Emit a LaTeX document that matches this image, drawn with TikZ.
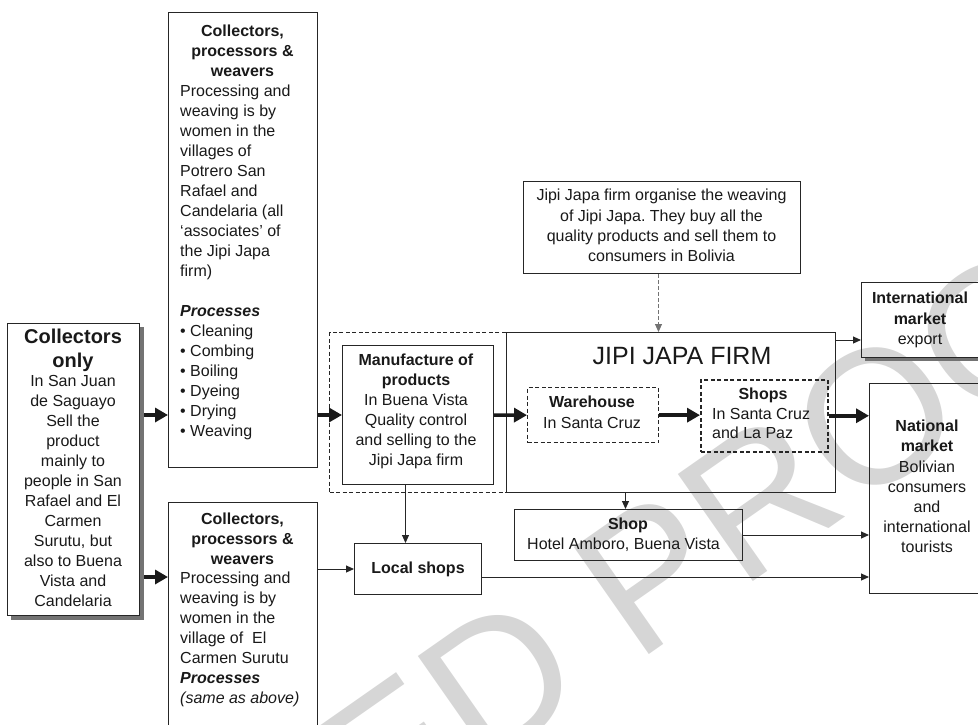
\documentclass[tikz,border=0pt]{standalone}
\usepackage{fontspec}
\setmainfont{Liberation Sans}
\usetikzlibrary{arrows.meta,calc}
\frenchspacing
\begin{document}
\begin{tikzpicture}[x=1pt,y=-1pt,
  box/.style={draw=black!85, line width=1pt, inner sep=0pt},
  dbox/.style={draw=black!85, line width=1.3pt, dash pattern=on 4pt off 2.5pt, inner sep=0pt},
  txt/.style={inner sep=0pt, text=black!90, font=\fontsize{16}{20}\selectfont},
  btxt/.style={inner sep=0pt, text=black!90, font=\fontsize{16}{20}\selectfont\bfseries},
  thickarrow/.style={line width=3.5pt, draw=black!90, -{Triangle[length=13pt,width=14pt]}},
  thinarrow/.style={line width=1pt, draw=black!85, -{Triangle[length=8pt,width=7pt]}},
  shadowline/.style={draw=black!55, line width=4pt}
]
\path[use as bounding box] (0,0) rectangle (978,725);
\clip (0,0) rectangle (978,725);

% watermark
\node[rotate=35, text=black!16, inner sep=0pt, font=\fontsize{190}{190}\selectfont] (wm) at (249,855) {UNCORRECTED PROOF};

% ---- left box: collectors only
\draw[shadowline] (141.5,327) -- (141.5,617.5) -- (11,617.5);
\node[box, anchor=north west, minimum width=132pt, minimum height=292pt] (lb) at (7,323) {};
\node[inner sep=0pt, text=black!90, font=\fontsize{20}{24}\selectfont\bfseries, align=center, anchor=north] (lbT) at (73,329) {Collectors\\only};
\node[txt, align=center, anchor=north] (lbB) at (73,375) {In San Juan\\de Saguayo\\Sell the\\product\\mainly to\\people in San\\Rafael and El\\Carmen\\Surutu, but\\also to Buena\\Vista and\\Candelaria};

% ---- upper collectors box
\node[box, anchor=north west, minimum width=149pt, minimum height=455pt] (ub) at (168,12) {};
\node[btxt, align=center, anchor=north] (ubT) at (242.5,25) {Collectors,\\processors \&\\weavers};
\node[txt, align=left, anchor=north west] (ubB) at (180,85) {Processing and\\weaving is by\\women in the\\villages of\\Potrero San\\Rafael and\\Candelaria (all\\‘associates’ of\\the Jipi Japa\\firm)\\[20pt]\textbf{\textit{Processes}}\\• Cleaning\\• Combing\\• Boiling\\• Dyeing\\• Drying\\• Weaving};

% ---- lower collectors box (runs off the page)
\node[box, anchor=north west, minimum width=149pt, minimum height=240pt] (lob) at (168,502) {};
\node[btxt, align=center, anchor=north] (lobT) at (242.5,513) {Collectors,\\processors \&\\weavers};
\node[txt, align=left, anchor=north west] (lobB) at (180,572) {Processing and\\weaving is by\\women in the\\village of\ \ El\\Carmen Surutu\\\textbf{\textit{Processes}}\\\textit{(same as above)}};

% ---- manufacture
\node[dbox, line width=1.1pt, anchor=north west, minimum width=177pt, minimum height=160pt] (mfd) at (329,332) {};
\node[box, anchor=north west, minimum width=151pt, minimum height=139pt] (mf) at (342,345) {};
\node[txt, align=center, anchor=north] (mfT) at (416,354) {\textbf{Manufacture of}\\\textbf{products}\\In Buena Vista\\Quality control\\and selling to the\\Jipi Japa firm};

% ---- description box
\node[box, anchor=north west, minimum width=277pt, minimum height=92pt] (desc) at (523,181) {};
\node[txt, font=\fontsize{16}{20.3}\selectfont, align=center, anchor=north] (descT) at (661.5,189) {Jipi Japa firm organise the weaving\\of Jipi Japa. They buy all the\\quality products and sell them to\\consumers in Bolivia};

% ---- Jipi Japa firm
\node[box, anchor=north west, minimum width=329pt, minimum height=160pt] (jf) at (506,332) {};
\node[inner sep=0pt, text=black!90, font=\fontsize{25}{30}\selectfont] (jfT) at (682,356) {JIPI JAPA FIRM};

\node[dbox, anchor=north west, minimum width=131pt, minimum height=55pt] (wh) at (527,387) {};
\node[txt, font=\fontsize{16}{20.5}\selectfont, align=center, anchor=north] (whT) at (592,396) {\textbf{Warehouse}\\In Santa Cruz};

\node[dbox, line width=1.5pt, anchor=north west, minimum width=127pt, minimum height=72pt] (sh) at (700,379) {};
\node[btxt, anchor=north] (shT) at (763,388) {Shops};
\node[txt, font=\fontsize{16}{19.5}\selectfont, align=left, anchor=north west] (shB) at (712,408) {In Santa Cruz\\and La Paz};

% ---- markets
\draw[shadowline, line width=3pt] (865,359) -- (985,359);
\node[box, anchor=north west, minimum width=122pt, minimum height=75pt] (im) at (861,282) {};
\node[txt, font=\fontsize{16}{20.5}\selectfont, align=center, anchor=north] (imT) at (920,292) {\textbf{International}\\\textbf{market}\\export};

\node[box, anchor=north west, minimum width=116pt, minimum height=210pt] (nm) at (869,383) {};
\node[txt, font=\fontsize{16}{20.2}\selectfont, align=center, anchor=north] (nmT) at (927,420) {\textbf{National}\\\textbf{market}\\Bolivian\\consumers\\and\\international\\tourists};

% ---- shop and local shops
\node[box, anchor=north west, minimum width=228pt, minimum height=51pt] (sp) at (514,509) {};
\node[btxt, anchor=north] (spT) at (628,518) {Shop};
\node[txt, anchor=north west] (spB) at (527,538) {Hotel Amboro, Buena Vista};

\node[box, anchor=north west, minimum width=127pt, minimum height=51pt] (ls) at (354,543) {};
\node[btxt] (lsT) at (ls.center) {Local shops};

% ---- connectors
\coordinate (ylow) at (0,577);
\draw[thickarrow] ([xshift=4pt]lb.east |- mf.west) -- (ub.west |- mf.west);
\draw[thickarrow] ([xshift=4pt]lb.east |- ylow) -- (lob.west |- ylow);
\draw[thickarrow] (ub.east |- mf.west) -- (mf.west);
\draw[thickarrow] (mf.east) -- (wh.west);
\draw[thickarrow] (wh.east) -- (wh.east -| sh.west);
\draw[thickarrow] (sh.east) -- (sh.east -| nm.west);

\draw[black!55, line width=0.9pt, dash pattern=on 4pt off 2pt, -{Triangle[length=8pt,width=7pt]}] ([xshift=-3.5pt]desc.south) -- ([xshift=-3.5pt]desc.south |- jf.north);

\coordinate (yint) at (0,340);
\draw[thinarrow] (jf.east |- yint) -- (im.west |- yint);
\draw[thinarrow] ([xshift=-3pt]sp.north |- jf.south) -- ([xshift=-3pt]sp.north);
\draw[thinarrow] (sp.east) -- (sp.east -| nm.west);
\draw[thinarrow] ([xshift=-12.5pt]mf.south) -- ([xshift=-12.5pt]mf.south |- ls.north);
\draw[thinarrow] (lob.east |- ls.west) -- (ls.west);
\draw[thinarrow] (ls.east |- ylow) -- (nm.west |- ylow);
\end{tikzpicture}
\end{document}
